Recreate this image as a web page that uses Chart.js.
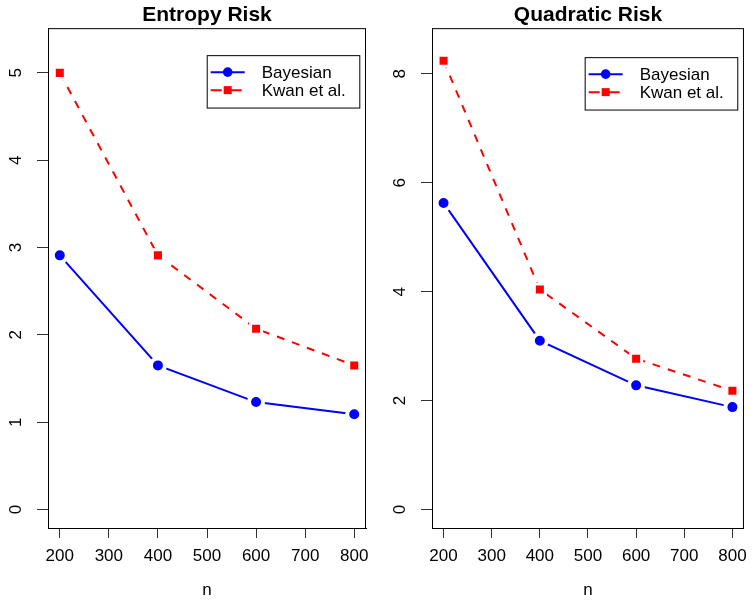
<!DOCTYPE html>
<html>
<head>
<meta charset="utf-8">
<title>Entropy and Quadratic Risk</title>
<script src="https://cdn.jsdelivr.net/npm/chart.js@4.4.0/dist/chart.umd.min.js"></script>
<style>
  body { margin: 0; background: #fff; }
  #wrap { position: relative; width: 755px; height: 601px; }
  canvas { position: absolute; top: 0; }
</style>
</head>
<body>
<div id="wrap">
  <canvas id="entropyChart" width="377" height="601" style="left:0"></canvas>
  <canvas id="quadChart" width="378" height="601" style="left:377px"></canvas>
</div>
<script>
// sample sizes on the x axis
const nValues = [200, 400, 600, 800];
const xTicks = [200, 300, 400, 500, 600, 700, 800];
const seriesNames = ["Bayesian", "Kwan et al."];

// Entropy risk panel
const entropyBayes = [2.91, 1.65, 1.23, 1.09];
const entropyKwan = [5.00, 2.91, 2.07, 1.65];
const entropyTicks = [0, 1, 2, 3, 4, 5];

// Quadratic risk panel
const quadBayes = [5.63, 3.10, 2.28, 1.88];
const quadKwan = [8.24, 4.04, 2.77, 2.18];
const quadTicks = [0, 2, 4, 6, 8];

const FONT = "'Liberation Sans', Arial, Helvetica, sans-serif";

// R style extras: box, rotated y labels, legend box
const rStylePlugin = {
    id: "rStyle",
    afterDraw(chart, args, opts) {
        const { ctx, chartArea } = chart;
        const yScale = chart.scales.y;
        ctx.save();

        // plot box
        ctx.strokeStyle = "#000";
        ctx.lineWidth = 1;
        ctx.strokeRect(chartArea.left + 0.5, chartArea.top + 0.5,
            chartArea.right - chartArea.left - 1, chartArea.bottom - chartArea.top);

        // y tick labels, rotated like R's las = 0
        ctx.fillStyle = "#000";
        ctx.font = "17px " + FONT;
        ctx.textAlign = "center";
        ctx.textBaseline = "middle";
        yScale.ticks.forEach((t) => {
            const py = yScale.getPixelForValue(t.value);
            ctx.save();
            ctx.translate(chartArea.left - 32, py);
            ctx.rotate(-Math.PI / 2);
            ctx.fillText(String(t.value), 0, 0);
            ctx.restore();
        });

        // legend
        const w = 152.6, h = 52.4;
        const x0 = chartArea.right - opts.insetX - w;
        const y0 = chartArea.top + opts.insetY;
        ctx.fillStyle = "#fff";
        ctx.fillRect(x0, y0, w, h);
        ctx.strokeStyle = "#000";
        ctx.strokeRect(x0 + 0.5, y0 + 0.5, w, h);

        chart.data.datasets.forEach((ds, i) => {
            const y = y0 + 17 + i * 18;
            ctx.strokeStyle = ds.borderColor;
            ctx.lineWidth = ds.borderWidth;
            ctx.setLineDash(ds.borderDash ? [11, 9] : []);
            ctx.beginPath();
            ctx.moveTo(x0 + 4, y);
            ctx.lineTo(x0 + 38, y);
            ctx.stroke();
            ctx.setLineDash([]);

            ctx.fillStyle = ds.pointBackgroundColor;
            if (ds.pointStyle === "circle") {
                ctx.beginPath();
                ctx.arc(x0 + 21, y, 4.8, 0, Math.PI * 2);
                ctx.fill();
            } else {
                ctx.fillRect(x0 + 17, y - 4, 8, 8);
            }

            ctx.fillStyle = "#000";
            ctx.font = "17px " + FONT;
            ctx.textAlign = "left";
            ctx.textBaseline = "middle";
            ctx.fillText(ds.label, x0 + 55, y + 1);
        });

        ctx.restore();
    },
};

const makeChart = (canvasId, title, bayes, kwan, yTicks, yMin, yMax, yAxisWidth, padRight, insetY) => {
    return new Chart(document.getElementById(canvasId), {
        type: "line",
        data: {
            datasets: [
                {
                    label: seriesNames[0],
                    data: nValues.map((n, i) => ({ x: n, y: bayes[i] })),
                    borderColor: "#0000ff",
                    borderWidth: 2,
                    pointStyle: "circle",
                    pointRadius: 7,
                    pointBorderWidth: 4,
                    pointBorderColor: "#fff",
                    pointBackgroundColor: "#0000ff",
                    tension: 0,
                },
                {
                    label: seriesNames[1],
                    data: nValues.map((n, i) => ({ x: n, y: kwan[i] })),
                    borderColor: "#ff0000",
                    borderWidth: 2,
                    borderDash: [8, 8],
                    pointStyle: "rect",
                    pointRadius: 7.8,
                    pointBorderWidth: 3,
                    pointBorderColor: "#fff",
                    pointBackgroundColor: "#ff0000",
                    tension: 0,
                },
            ],
        },
        options: {
            responsive: false,
            animation: false,
            layout: { padding: { left: 0, right: padRight, top: 0, bottom: 0 } },
            plugins: {
                legend: { display: false },
                tooltip: { enabled: false },
                title: {
                    display: true,
                    text: title,
                    fullSize: false,
                    color: "#000",
                    font: { family: FONT, size: 21, weight: "bold", lineHeight: 1.15 },
                    padding: { top: 3, bottom: 1 },
                },
                rStyle: { insetX: 6.7, insetY: insetY },
            },
            scales: {
                x: {
                    type: "linear",
                    min: 176,
                    max: 824,
                    afterBuildTicks: (scale) => {
                        scale.ticks = xTicks.map((v) => ({ value: v }));
                    },
                    afterFit: (scale) => { scale.height = 73; },
                    grid: {
                        drawOnChartArea: false,
                        drawTicks: true,
                        tickLength: 10,
                        color: "#333",
                    },
                    border: { display: true, color: "#000" },
                    ticks: {
                        color: "#000",
                        font: { family: FONT, size: 17 },
                        padding: 8,
                        maxRotation: 0,
                        autoSkip: false,
                    },
                    title: {
                        display: true,
                        text: "n",
                        color: "#000",
                        font: { family: FONT, size: 17 },
                        padding: { top: 0, bottom: 0 },
                    },
                },
                y: {
                    type: "linear",
                    min: yMin,
                    max: yMax,
                    afterBuildTicks: (scale) => {
                        scale.ticks = yTicks.map((v) => ({ value: v }));
                    },
                    afterFit: (scale) => { scale.width = yAxisWidth; },
                    grid: {
                        drawOnChartArea: false,
                        drawTicks: true,
                        tickLength: 11,
                        color: "#333",
                    },
                    border: { display: true, color: "#000" },
                    ticks: { display: false },
                },
            },
        },
        plugins: [rStylePlugin],
    });
};

makeChart("entropyChart", "Entropy Risk", entropyBayes, entropyKwan, entropyTicks,
    -0.212, 5.512, 48, 11, 27);
makeChart("quadChart", "Quadratic Risk", quadBayes, quadKwan, quadTicks,
    -0.34, 8.84, 55, 5, 29);
</script>
</body>
</html>
